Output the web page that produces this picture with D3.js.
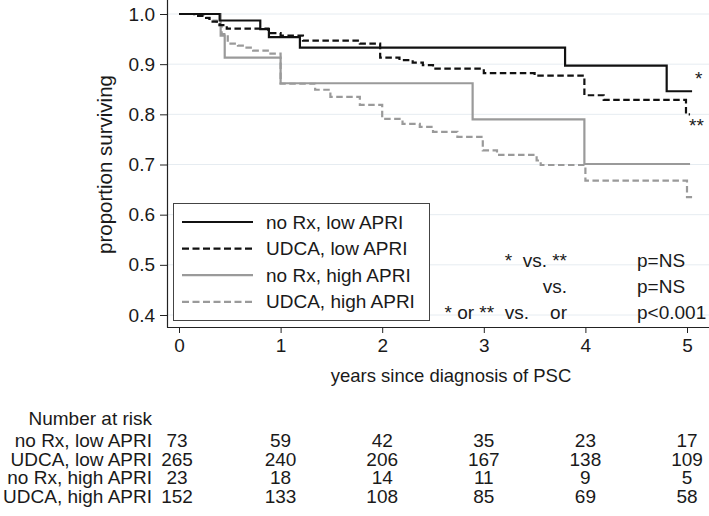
<!DOCTYPE html>
<html><head><meta charset="utf-8">
<script src="https://cdn.jsdelivr.net/npm/d3@7"></script>
<style>
html,body{margin:0;padding:0;background:#fff;}
svg{display:block;}
text{font-family:"Liberation Sans",Arial,Helvetica,sans-serif;fill:#1a1a1a;}
</style></head>
<body>
<svg id="chart" width="709" height="516"></svg>
<script>
// ---- data ----
const groupNames = ["no Rx, low APRI", "UDCA, low APRI", "no Rx, high APRI", "UDCA, high APRI"];
const xTicks = [0, 1, 2, 3, 4, 5];
const yTicks = [0.4, 0.5, 0.6, 0.7, 0.8, 0.9, 1.0];

// step times (years) and survival after each step
const noRxLowTimes = [0, 0.40, 0.80, 0.885, 1.19, 3.80, 4.80];
const noRxLowSurv  = [1.0, 0.987, 0.970, 0.954, 0.933, 0.897, 0.846];
const noRxLowEnd = 5.05;

const udcaLowTimes = [0, 0.15, 0.25, 0.30, 0.40, 0.47, 0.88, 1.00, 1.22, 1.78, 1.98, 2.17, 2.30, 2.40, 2.50, 3.00, 3.50, 3.99, 4.18, 4.99];
const udcaLowSurv  = [1.0, 0.996, 0.992, 0.985, 0.978, 0.971, 0.962, 0.957, 0.947, 0.941, 0.913, 0.908, 0.903, 0.898, 0.891, 0.882, 0.877, 0.838, 0.829, 0.800];
const udcaLowEnd = 5.03;

const noRxHighTimes = [0, 0.41, 0.45, 1.00, 2.89, 3.99];
const noRxHighSurv  = [1.0, 0.957, 0.913, 0.862, 0.790, 0.701];
const noRxHighEnd = 5.03;

const udcaHighTimes = [0, 0.24, 0.30, 0.37, 0.42, 0.48, 0.58, 0.65, 0.73, 0.90, 1.00, 1.34, 1.49, 1.78, 2.00, 2.20, 2.37, 2.50, 2.74, 2.99, 3.13, 3.52, 3.56, 4.00, 5.00];
const udcaHighSurv  = [1.0, 0.993, 0.987, 0.978, 0.960, 0.941, 0.937, 0.933, 0.927, 0.921, 0.861, 0.849, 0.835, 0.819, 0.791, 0.781, 0.775, 0.765, 0.755, 0.728, 0.719, 0.708, 0.699, 0.668, 0.635];
const udcaHighEnd = 5.05;

// number at risk
const riskNoRxLow = [73, 59, 42, 35, 23, 17];
const riskUdcaLow = [265, 240, 206, 167, 138, 109];
const riskNoRxHigh = [23, 18, 14, 11, 9, 5];
const riskUdcaHigh = [152, 133, 108, 85, 69, 58];

const pLines = [
  ["*  vs. **", "p=NS"],
  ["vs.", "p=NS"],
  ["* or **  vs.    or", "p<0.001"]
];

// ---- drawing ----
const svg = d3.select("#chart");
const FS = 19;
const BLACK = "#111", GREY = "#9a9a9a";

const x = d3.scaleLinear().domain([0, 5]).range([179, 687]);
const y = d3.scaleLinear().domain([0.4, 1.0]).range([315, 14]);

const axisX0 = 167, axisY0 = 327;

// gridlines
svg.append("g").selectAll("line").data(yTicks).join("line")
  .attr("x1", axisX0).attr("x2", 709)
  .attr("y1", d => y(d)).attr("y2", d => y(d))
  .attr("stroke", "#e6ecf1").attr("stroke-width", 1);

// axes
const yAxis = d3.axisLeft(y).tickValues(yTicks).tickFormat(d3.format(".1f"))
  .tickSize(7).tickPadding(5).tickSizeOuter(0);
const gy = svg.append("g").attr("transform", `translate(${axisX0},0)`).call(yAxis);
gy.select(".domain").remove();
gy.selectAll("line").attr("stroke", "#222");
gy.selectAll("text").style("font-size", FS + "px").attr("fill", "#1a1a1a");

const xAxis = d3.axisBottom(x).tickValues(xTicks).tickFormat(d3.format("d"))
  .tickSize(6).tickPadding(5.5).tickSizeOuter(0);
const gx = svg.append("g").attr("transform", `translate(0,${axisY0})`).call(xAxis);
gx.select(".domain").remove();
gx.selectAll("line").attr("stroke", "#222");
gx.selectAll("text").style("font-size", FS + "px").attr("fill", "#1a1a1a");

svg.append("line").attr("x1", axisX0 + 0.5).attr("x2", axisX0 + 0.5).attr("y1", 0).attr("y2", axisY0 + 0.5)
  .attr("stroke", "#222").attr("stroke-width", 1.2);
svg.append("line").attr("x1", axisX0).attr("x2", 709).attr("y1", axisY0 + 0.5).attr("y2", axisY0 + 0.5)
  .attr("stroke", "#222").attr("stroke-width", 1.2);

// axis titles
svg.append("text").attr("transform", `translate(112,${(y(0.4) + y(1.0)) / 2}) rotate(-90)`)
  .attr("text-anchor", "middle").style("font-size", "20.5px").text("proportion surviving");
svg.append("text").attr("x", 451).attr("y", 382).attr("text-anchor", "middle")
  .style("font-size", "18.5px").text("years since diagnosis of PSC");

// curves
const line = d3.line().x(d => x(d[0])).y(d => y(d[1])).curve(d3.curveStepAfter);
function pts(times, surv, end) {
  const p = times.map((t, i) => [t, surv[i]]);
  p.push([end, surv[surv.length - 1]]);
  return p;
}
const series = [
  { data: pts(udcaHighTimes, udcaHighSurv, udcaHighEnd), color: GREY, dash: "6.5,3.5" },
  { data: pts(noRxHighTimes, noRxHighSurv, noRxHighEnd), color: GREY, dash: null },
  { data: pts(udcaLowTimes, udcaLowSurv, udcaLowEnd), color: BLACK, dash: "6.5,3.5" },
  { data: pts(noRxLowTimes, noRxLowSurv, noRxLowEnd), color: BLACK, dash: null }
];
svg.append("g").selectAll("path").data(series).join("path")
  .attr("d", d => line(d.data))
  .attr("fill", "none").attr("stroke", d => d.color).attr("stroke-width", 2.2)
  .attr("stroke-dasharray", d => d.dash);

// end markers
svg.append("text").attr("x", x(noRxLowEnd) + 3).attr("y", y(noRxLowSurv[noRxLowSurv.length - 1]) - 6)
  .style("font-size", FS + "px").text("*");
svg.append("text").attr("x", x(udcaLowEnd) - 1).attr("y", y(udcaLowSurv[udcaLowSurv.length - 1]) + 18)
  .style("font-size", FS + "px").text("**");

// legend
const legendSeries = [
  { name: groupNames[0], color: BLACK, dash: null },
  { name: groupNames[1], color: BLACK, dash: "7,3.5" },
  { name: groupNames[2], color: GREY, dash: null },
  { name: groupNames[3], color: GREY, dash: "7,3.5" }
];
const lg = svg.append("g");
lg.append("rect").attr("x", 173.5).attr("y", 203.5).attr("width", 256).attr("height", 117)
  .attr("fill", "#fff").attr("stroke", "#444").attr("stroke-width", 1);
const rows = lg.selectAll("g").data(legendSeries).join("g")
  .attr("transform", (d, i) => `translate(0,${222 + i * 26.6})`);
rows.append("line").attr("x1", 182).attr("x2", 253).attr("y1", 0).attr("y2", 0)
  .attr("stroke", d => d.color).attr("stroke-width", 2.2).attr("stroke-dasharray", d => d.dash);
rows.append("text").attr("x", 266).attr("dy", "0.35em").style("font-size", FS + "px").text(d => d.name);

// p-value annotation
const pg = svg.append("g");
pLines.forEach((r, i) => {
  pg.append("text").attr("x", 567).attr("y", 267 + i * 25.8).attr("text-anchor", "end")
    .style("font-size", FS + "px").text(r[0]).attr("xml:space", "preserve").style("white-space", "pre");
  pg.append("text").attr("x", 637).attr("y", 267 + i * 25.8)
    .style("font-size", FS + "px").text(r[1]);
});

// number at risk table
svg.append("text").attr("x", 152).attr("y", 425).attr("text-anchor", "end")
  .style("font-size", FS + "px").text("Number at risk");
const riskRows = [riskNoRxLow, riskUdcaLow, riskNoRxHigh, riskUdcaHigh];
riskRows.forEach((vals, i) => {
  const yy = 447 + i * 18.5;
  svg.append("text").attr("x", 152).attr("y", yy).attr("text-anchor", "end")
    .style("font-size", FS + "px").text(groupNames[i]);
  svg.append("g").selectAll("text").data(vals).join("text")
    .attr("x", (d, j) => x(xTicks[j]) - (j === 0 ? 2 : 0)).attr("y", yy)
    .attr("text-anchor", "middle").style("font-size", FS + "px").text(d => d);
});
</script>
</body></html>
